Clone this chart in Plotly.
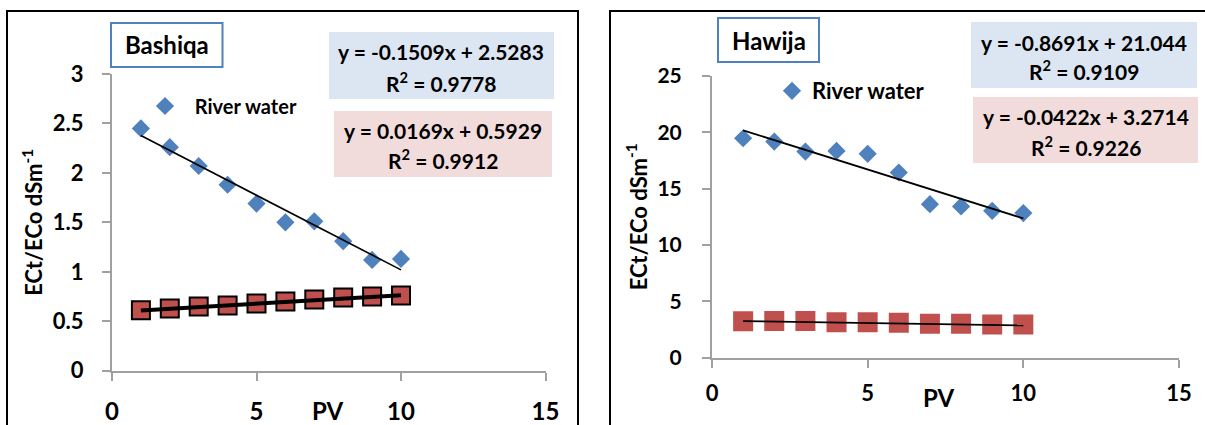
import plotly.graph_objects as go

# ---- data -------------------------------------------------------------
pv = [1, 2, 3, 4, 5, 6, 7, 8, 9, 10]

bashiqa_river = [2.45, 2.26, 2.07, 1.88, 1.69, 1.50, 1.51, 1.31, 1.12, 1.13]
bashiqa_other = [0.61, 0.63, 0.65, 0.66, 0.68, 0.70, 0.72, 0.74, 0.75, 0.76]

hawija_river = [19.47, 19.18, 18.29, 18.35, 18.09, 16.43, 13.62, 13.42, 13.03, 12.83]
hawija_other = [3.22, 3.25, 3.24, 3.14, 3.13, 3.08, 3.00, 3.00, 2.93, 2.92]

# linear fits: slope, intercept, R²  (river, other)
bashiqa_slope = [-0.1509, 0.0169]
bashiqa_icpt = [2.5283, 0.5929]
bashiqa_r2 = [0.9778, 0.9912]

hawija_slope = [-0.8691, -0.0422]
hawija_icpt = [21.044, 3.2714]
hawija_r2 = [0.9109, 0.9226]

x_ticks = [0, 5, 10, 15]
bashiqa_y_ticks = [0, 0.5, 1, 1.5, 2, 2.5, 3]
hawija_y_ticks = [0, 5, 10, 15, 20, 25]

# ---- styling ----------------------------------------------------------
W, H = 1205, 425
FONT = "Lato"
BLUE = "#4F81BD"
RED = "#C0504D"
AXIS_GREY = "#A0A0A0"
EQ_BLUE_BG = "#DCE6F2"
EQ_RED_BG = "#F2DCDB"


def px(x):
    return x / W


def py(y):
    return 1 - y / H


def fit_line(slope, icpt):
    xs = [pv[0], pv[-1]]
    return xs, [slope * x + icpt for x in xs]


def eq_text(slope, icpt):
    sign = "+" if icpt >= 0 else "-"
    return f"y = {slope}x {sign} {abs(icpt)}"


fig = go.Figure()

# ---- Bashiqa panel ----------------------------------------------------
fig.add_trace(go.Scatter(
    x=pv, y=bashiqa_river, mode="markers",
    name="\u00a0\u00a0River water",
    marker=dict(symbol="diamond", size=14, color=BLUE),
    xaxis="x", yaxis="y", legend="legend"))
fig.add_trace(go.Scatter(
    x=pv, y=bashiqa_other, mode="markers", showlegend=False,
    marker=dict(symbol="square", size=18, color=RED,
                line=dict(color="black", width=2)),
    xaxis="x", yaxis="y"))
lx, ly = fit_line(bashiqa_slope[0], bashiqa_icpt[0])
fig.add_trace(go.Scatter(x=lx, y=ly, mode="lines", showlegend=False,
                         line=dict(color="black", width=1.6),
                         xaxis="x", yaxis="y"))
lx, ly = fit_line(bashiqa_slope[1], bashiqa_icpt[1])
fig.add_trace(go.Scatter(x=lx, y=ly, mode="lines", showlegend=False,
                         line=dict(color="black", width=4),
                         xaxis="x", yaxis="y"))

# ---- Hawija panel -----------------------------------------------------
fig.add_trace(go.Scatter(
    x=pv, y=hawija_river, mode="markers", name="River water",
    marker=dict(symbol="diamond", size=14, color=BLUE),
    xaxis="x2", yaxis="y2", legend="legend2"))
fig.add_trace(go.Scatter(
    x=pv, y=hawija_other, mode="markers", showlegend=False,
    marker=dict(symbol="square", size=20, color=RED),
    xaxis="x2", yaxis="y2"))
for s, b in zip(hawija_slope, hawija_icpt):
    lx, ly = fit_line(s, b)
    fig.add_trace(go.Scatter(x=lx, y=ly, mode="lines", showlegend=False,
                             line=dict(color="black", width=1.8),
                             xaxis="x2", yaxis="y2"))


def axis_common(tickfont_size):
    return dict(
        showline=True, linecolor=AXIS_GREY, linewidth=2,
        ticks="outside", ticklen=8, tickwidth=2, tickcolor=AXIS_GREY,
        showgrid=False, zeroline=False, automargin=False,
        tickfont=dict(family=FONT, size=tickfont_size, color="black",
                      weight="bold"),
    )


ytitle = dict(text="ECt/ECo dSm<sup>-1</sup>",
              font=dict(family=FONT, size=22, color="black", weight="bold"),
              standoff=4)

fig.update_layout(
    template="none",
    width=W, height=H,
    margin=dict(l=0, r=0, t=0, b=0, autoexpand=False),
    paper_bgcolor="white", plot_bgcolor="white",
    font=dict(family=FONT, color="black"),
    xaxis=dict(axis_common(24), domain=[px(112), px(545.5)], range=[0, 15],
               tickvals=x_ticks, anchor="y", ticklabelstandoff=10),
    yaxis=dict(axis_common(22), domain=[py(370.7), py(74)], range=[0, 3],
               tickvals=bashiqa_y_ticks, anchor="x", ticklabelstandoff=14,
               title=ytitle),
    xaxis2=dict(axis_common(22), domain=[px(712), px(1179)], range=[0, 15],
                tickvals=x_ticks, anchor="y2", ticklabelstandoff=7),
    yaxis2=dict(axis_common(21), domain=[py(357.5), py(76)], range=[0, 25],
                tickvals=hawija_y_ticks, anchor="x2", ticklabelstandoff=16,
                title=ytitle),
    legend=dict(x=px(145), y=py(106), xanchor="left", yanchor="middle",
                bgcolor="rgba(0,0,0,0)",
                font=dict(family=FONT, size=20, color="black", weight="bold")),
    legend2=dict(x=px(772), y=py(91), xanchor="left", yanchor="middle",
                 bgcolor="rgba(0,0,0,0)",
                 font=dict(family=FONT, size=22, color="black", weight="bold")),
)

shapes = []
annotations = []

# panel frames
shapes.append(dict(type="rect", xref="paper", yref="paper",
                   x0=px(7), x1=px(578), y0=py(440), y1=py(11),
                   line=dict(color="black", width=2), fillcolor="rgba(0,0,0,0)"))
shapes.append(dict(type="rect", xref="paper", yref="paper",
                   x0=px(610), x1=px(1220), y0=py(440), y1=py(11),
                   line=dict(color="black", width=2), fillcolor="rgba(0,0,0,0)"))


def title_box(x0, x1, y0, y1, text):
    shapes.append(dict(type="rect", xref="paper", yref="paper",
                       x0=px(x0), x1=px(x1), y0=py(y1), y1=py(y0),
                       line=dict(color=BLUE, width=2), fillcolor="white"))
    annotations.append(dict(xref="paper", yref="paper",
                            x=px((x0 + x1) / 2), y=py((y0 + y1) / 2),
                            text=text, showarrow=False,
                            xanchor="center", yanchor="middle",
                            font=dict(family=FONT, size=24, color="black",
                                      weight="bold")))


def eq_box(x0, x1, y0, y1, line1_y, line2_y, bg, slope, icpt, r2, size):
    shapes.append(dict(type="rect", xref="paper", yref="paper",
                       x0=px(x0), x1=px(x1), y0=py(y1), y1=py(y0),
                       line=dict(width=0), fillcolor=bg, layer="below"))
    cx = px((x0 + x1) / 2)
    f = dict(family=FONT, size=size, color="black", weight="bold")
    annotations.append(dict(xref="paper", yref="paper", x=cx, y=py(line1_y),
                            text=eq_text(slope, icpt), showarrow=False,
                            xanchor="center", yanchor="middle", font=f))
    annotations.append(dict(xref="paper", yref="paper", x=cx, y=py(line2_y),
                            text=f"R<sup>2</sup> = {r2:.4f}", showarrow=False,
                            xanchor="center", yanchor="middle", font=f))


title_box(111, 222.5, 23, 67, "Bashiqa")
title_box(718, 819, 18, 62, "Hawija")

eq_box(329, 554, 32, 99, 52, 82, EQ_BLUE_BG,
       bashiqa_slope[0], bashiqa_icpt[0], bashiqa_r2[0], 21)
eq_box(334, 552, 111, 177, 130, 159, EQ_RED_BG,
       bashiqa_slope[1], bashiqa_icpt[1], bashiqa_r2[1], 21)
eq_box(971, 1197, 22, 88, 42, 70, EQ_BLUE_BG,
       hawija_slope[0], hawija_icpt[0], hawija_r2[0], 21)
eq_box(973, 1198, 97, 163, 117, 146, EQ_RED_BG,
       hawija_slope[1], hawija_icpt[1], hawija_r2[1], 21)

# PV labels sit on the tick-label row
pv_font = dict(family=FONT, size=24, color="black", weight="bold")
annotations.append(dict(xref="paper", yref="paper", x=px(328), y=py(410),
                        text="PV", showarrow=False, xanchor="center",
                        yanchor="middle", font=pv_font))
annotations.append(dict(xref="paper", yref="paper", x=px(939), y=py(397),
                        text="PV", showarrow=False, xanchor="center",
                        yanchor="middle", font=pv_font))

fig.update_layout(shapes=shapes, annotations=annotations)

fig.write_html("out.html")
